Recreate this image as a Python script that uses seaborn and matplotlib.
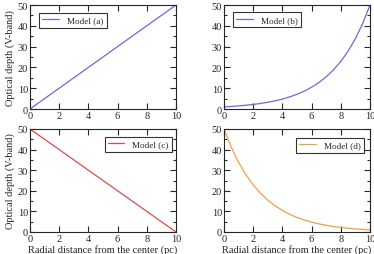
import numpy as np
import pandas as pd
import matplotlib
matplotlib.use("Agg")
import matplotlib.pyplot as plt
import seaborn as sns
from matplotlib.ticker import MultipleLocator

sns.set_style("ticks")
plt.rcParams['font.family'] = ['Liberation Serif', 'DejaVu Serif']

# Data
x = [0, 0.5, 1, 1.5, 2, 2.5, 3, 3.5, 4, 4.5, 5, 5.5, 6, 6.5, 7, 7.5, 8, 8.5, 9, 9.5, 10]
model_a = [0, 2.5, 5, 7.5, 10, 12.5, 15, 17.5, 20, 22.5, 25, 27.5, 30, 32.5, 35, 37.5, 40, 42.5, 45, 47.5, 50]
model_b = [1.0, 1.22, 1.48, 1.8, 2.19, 2.66, 3.24, 3.93, 4.78, 5.81, 7.07, 8.59, 10.46,
           12.71, 15.46, 18.8, 22.87, 27.8, 33.81, 41.11, 50.0]
model_c = [50, 47.5, 45, 42.5, 40, 37.5, 35, 32.5, 30, 27.5, 25, 22.5, 20, 17.5, 15, 12.5, 10, 7.5, 5, 2.5, 0]
model_d = [50.0, 41.11, 33.81, 27.8, 22.87, 18.8, 15.46, 12.71, 10.46, 8.59, 7.07, 5.81, 4.78,
           3.93, 3.24, 2.66, 2.19, 1.8, 1.48, 1.22, 1.0]
labels = ["Model (a)", "Model (b)", "Model (c)", "Model (d)"]
colors = ["#6a6ae0", "#6a6ae0", "#e04a4a", "#f2a03a"]
xlabel = "Radial distance from the center (pc)"
ylabel = "Optical depth (V-band)"

fig = plt.figure(figsize=(3.74, 2.55), dpi=100)
W, H = 374, 255
rects = [(30, 6, 176, 110), (224, 6, 370, 110), (30, 130, 176, 233), (224, 130, 370, 233)]
series = [model_a, model_b, model_c, model_d]
locs = ["upper left", "upper left", "upper right", "upper right"]
anchors = [(0.062, 0.923), (0.062, 0.93), (0.973, 0.923), (0.959, 0.913)]

for i, (r, ys) in enumerate(zip(rects, series)):
    l, t, rr, b = r
    ax = fig.add_axes([l / W, 1 - b / H, (rr - l) / W, (b - t) / H])
    df = pd.DataFrame({"x": x, "y": ys, "m": labels[i]})
    sns.lineplot(data=df, x="x", y="y", hue="m", palette=[colors[i]], ax=ax, lw=0.9)
    ax.set_xlim(0, 10)
    ax.set_ylim(0, 50)
    ax.xaxis.set_major_locator(MultipleLocator(2))
    ax.yaxis.set_major_locator(MultipleLocator(10))
    ax.yaxis.set_minor_locator(MultipleLocator(5))
    ax.tick_params(which="both", direction="in", top=True, right=True, labelsize=7.5, pad=1.5, width=0.8)
    ax.tick_params(which="major", length=4.5)
    ax.tick_params(which="minor", length=2.2)
    for s in ax.spines.values():
        s.set_linewidth(0.8)
    ax.set_xlabel(xlabel if i >= 2 else "", fontsize=7.5, labelpad=1)
    ax.set_ylabel(ylabel if i % 2 == 0 else "", fontsize=7.5, labelpad=2)
    leg = ax.legend(loc=locs[i], bbox_to_anchor=anchors[i], fontsize=6.6, frameon=True,
                    fancybox=False, handlelength=1.8, borderpad=0.35, borderaxespad=0.0,
                    handletextpad=0.9)
    leg.get_frame().set_edgecolor("black")
    leg.get_frame().set_linewidth(0.8)

fig.savefig("out.png", dpi=100)
